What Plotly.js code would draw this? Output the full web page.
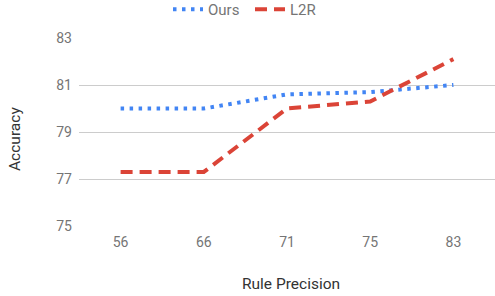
<!DOCTYPE html>
<html><head><meta charset="utf-8">
<script src="https://cdn.plot.ly/plotly-3.0.1.min.js"></script>
<style>html,body{margin:0;padding:0;background:#fff}#chart{width:495px;height:296px}</style>
</head><body><div id="chart"></div>
<script>
const categories = ["56", "66", "71", "75", "83"];
const oursValues = [80.0, 80.0, 80.6, 80.7, 81.0];
const l2rValues = [77.3, 77.3, 80.0, 80.3, 82.1];
const yTicks = [75, 77, 79, 81, 83];

const traces = [
  {x: categories, y: oursValues, name: "Ours", type: "scatter", mode: "lines",
   line: {color: "#4285F4", width: 4, dash: "3.5px,5.5px"}},
  {x: categories, y: l2rValues, name: "L2R", type: "scatter", mode: "lines",
   line: {color: "#DB4437", width: 4, dash: "12px,7px"}}
];
const layout = {
  width: 495, height: 296,
  margin: {l: 79, r: 0, t: 38, b: 70},
  paper_bgcolor: "#fff", plot_bgcolor: "#fff",
  font: {family: "Roboto, Arial, sans-serif", color: "#757575", size: 14},
  showlegend: true,
  legend: {orientation: "h", xref: "container", yref: "container", x: 168/495, xanchor: "left", y: 1 - 9.5/296, yanchor: "middle",
           font: {size: 15, color: "#757575"}, itemwidth: 30, entrywidth: 37, tracegroupgap: 0},
  xaxis: {type: "category", range: [-0.5, 4.5], showgrid: false, zeroline: false, showline: false,
          ticks: "", ticklabelstandoff: 6, tickfont: {size: 14, color: "#757575"}, fixedrange: true},
  yaxis: {range: [75, 83], tickvals: yTicks, showgrid: true, gridcolor: "#cccccc", gridwidth: 1,
          zeroline: false, showline: false, ticks: "", ticklabelstandoff: 6,
          tickfont: {size: 14, color: "#757575"}, fixedrange: true},
  annotations: [
    {text: "Rule Precision", xref: "paper", yref: "paper", x: 0.5, xshift: 4, y: 0, yshift: -58, xanchor: "center", yanchor: "middle",
     showarrow: false, font: {size: 15.5, color: "#333"}},
    {text: "Accuracy", xref: "paper", yref: "paper", x: 0, xshift: -64, y: 0.5, yshift: -7, textangle: -90,
     xanchor: "center", yanchor: "middle", showarrow: false, font: {size: 15.5, color: "#333"}}
  ]
};
Plotly.newPlot("chart", traces, layout, {displayModeBar: false, staticPlot: true});
</script></body></html>
